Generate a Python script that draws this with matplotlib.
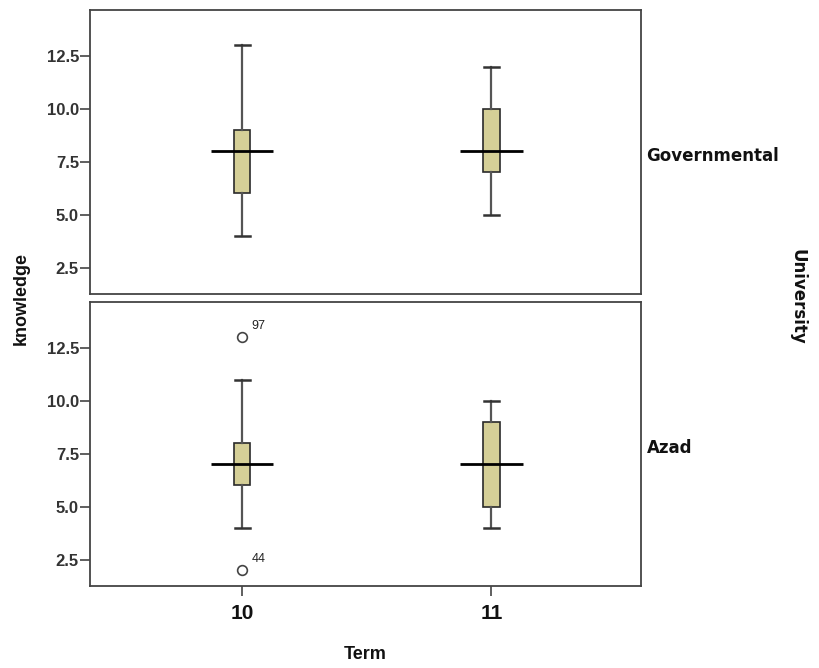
import numpy as np
import matplotlib
matplotlib.use("Agg")
from matplotlib import pyplot as plt

# summary values
terms = [10, 11]
universities = ["Governmental", "Azad"]

gov_low = [4, 5]
gov_q1 = [6, 7]
gov_med = [8, 8]
gov_q3 = [9, 10]
gov_high = [13, 12]

azad_low = [4, 4]
azad_q1 = [6, 5]
azad_med = [7, 7]
azad_q3 = [8, 9]
azad_high = [11, 10]

# outliers (value, case id) per term
azad_fliers = [[(13, "97"), (2, "44")], []]
gov_fliers = [[], []]

y_ticks = [2.5, 5.0, 7.5, 10.0, 12.5]

box_color = "#d5cf97"


def make_stats(low, q1, med, q3, high, fliers):
    stats = []
    for i in range(len(low)):
        stats.append(dict(whislo=low[i], q1=q1[i], med=med[i], q3=q3[i],
                          whishi=high[i], fliers=[f[0] for f in fliers[i]]))
    return stats


def draw_panel(ax, low, q1, med, q3, high, fliers, label):
    stats = make_stats(low, q1, med, q3, high, fliers)
    ax.bxp(stats, positions=terms, widths=0.065, capwidths=0.06,
           patch_artist=True, showfliers=True,
           boxprops=dict(facecolor=box_color, edgecolor="#2a2a2a", linewidth=1.2),
           whiskerprops=dict(color="#555555", linewidth=1.6),
           capprops=dict(color="#333333", linewidth=1.8),
           medianprops=dict(visible=False),
           flierprops=dict(marker="o", markersize=7, markerfacecolor="white",
                           markeredgecolor="#444444", markeredgewidth=1.2))
    # SPSS style median bar, wider than the box
    ax.hlines(med, [t - 0.125 for t in terms], [t + 0.125 for t in terms],
              colors="black", linewidth=2, zorder=4)
    for i, t in enumerate(terms):
        for val, case in fliers[i]:
            ax.annotate(case, (t, val), xytext=(7, 6), textcoords="offset points",
                        fontsize=9, family="Liberation Sans", color="#222222")
    ax.set_xlim(9.39, 11.6)
    ax.set_ylim(1.25, 14.67)
    ax.set_yticks(y_ticks)
    ax.set_yticklabels([f"{v:.1f}" for v in y_ticks], fontsize=12,
                       fontweight="bold", family="Liberation Sans", color="#333333")
    ax.tick_params(axis="y", length=7, width=1.2, color="#444444", pad=1)
    for s in ax.spines.values():
        s.set_color("#444444")
        s.set_linewidth(1.3)
    ax.text(1.01, 0.485, label, transform=ax.transAxes, va="center", ha="left",
            fontsize=12, fontweight="bold", family="DejaVu Sans", color="#111111")


fig = plt.figure(figsize=(8.19, 6.68), dpi=100)
ax1 = fig.add_axes([0.1099, 0.5599, 0.6728, 0.4251])
ax2 = fig.add_axes([0.1099, 0.1228, 0.6728, 0.4251])

draw_panel(ax1, gov_low, gov_q1, gov_med, gov_q3, gov_high, gov_fliers, universities[0])
draw_panel(ax2, azad_low, azad_q1, azad_med, azad_q3, azad_high, azad_fliers, universities[1])

ax1.tick_params(axis="x", bottom=False, labelbottom=False)
ax2.set_xticks(terms)
ax2.set_xticklabels([str(t) for t in terms], fontsize=15, fontweight="bold",
                    family="Liberation Sans", color="#111111")
ax2.tick_params(axis="x", length=7, width=1.2, color="#444444", pad=6)

fig.text(0.446, 0.02, "Term", ha="center", va="center", fontsize=13,
         fontweight="bold", family="Liberation Sans", color="#111111")
fig.text(0.016, 0.553, "knowledge", ha="left", va="center", rotation=90,
         fontsize=13, fontweight="bold", family="Liberation Sans", color="#111111")
fig.text(0.985, 0.555, "University", ha="right", va="center", rotation=-90,
         fontsize=12, fontweight="bold", family="DejaVu Sans", color="#111111")

fig.savefig("out.png", dpi=100)
